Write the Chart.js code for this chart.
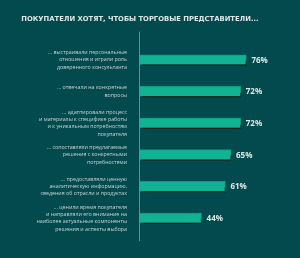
<!DOCTYPE html>
<html><head><meta charset="utf-8">
<script src="https://cdn.jsdelivr.net/npm/chart.js@4.4.1/dist/chart.umd.min.js"></script>
<style>html,body{margin:0;padding:0;background:#034a4e;}#w{width:300px;height:258px;}</style>
</head><body><div id="w"><canvas id="c"></canvas></div>
<script>
const titleText = 'ПОКУПАТЕЛИ ХОТЯТ, ЧТОБЫ ТОРГОВЫЕ ПРЕДСТАВИТЕЛИ...';
const categories = [
  ['... выстраивали персональные', 'отношения и играли роль', 'доверенного консультанта'],
  ['... отвечали на конкретные', 'вопросы'],
  ['... адаптировали процесс', 'и материалы к специфике работы', 'и к уникальным потребностям', 'покупателя'],
  ['... сопоставляли предлагаемые', 'решения с конкретными', 'потребностями'],
  ['... предоставляли ценную', 'аналитическую информацию,', 'сведения об отрасли и продуктах'],
  ['... ценили время покупателя', 'и направляли его внимание на', 'наиболее актуальные компоненты', 'решения и аспекты выбора']
];
const values = [76, 72, 72, 65, 61, 44];
const valueLabels = ['76%', '72%', '72%', '65%', '61%', '44%'];

const shadowPlugin = {
  id: 'shadow',
  beforeDatasetsDraw(chart) {
    const ctx = chart.ctx;
    ctx.save();
    ctx.shadowColor = 'rgba(0,0,0,1)';
    ctx.shadowOffsetX = 1;
    ctx.shadowOffsetY = 6;
    ctx.shadowBlur = 2;
  },
  afterDatasetsDraw(chart) {
    chart.ctx.restore();
    const ctx = chart.ctx;
    const meta = chart.getDatasetMeta(0);
    ctx.save();
    ctx.font = 'bold 8px "Open Sans"';
    ctx.fillStyle = '#dbe7e7';
    ctx.textAlign = 'left';
    ctx.textBaseline = 'middle';
    meta.data.forEach((bar, i) => {
      ctx.fillText(valueLabels[i], bar.x + 5, bar.y + 0.5);
    });
    const x = chart.scales.x.getPixelForValue(0);
    ctx.strokeStyle = 'rgba(130,165,166,0.75)';
    ctx.lineWidth = 1;
    ctx.beginPath();
    ctx.moveTo(Math.round(x) - 0.5, chart.chartArea.top - 12.5);
    ctx.lineTo(Math.round(x) - 0.5, chart.chartArea.bottom + 7);
    ctx.stroke();
    ctx.restore();
  }
};

new Chart(document.getElementById('c'), {
  type: 'bar',
  data: {
    labels: categories,
    datasets: [{
      data: values,
      backgroundColor: '#10b393',
      borderColor: '#0a9a7f',
      borderWidth: 1,
      barThickness: 10.5
    }]
  },
  options: {
    indexAxis: 'y',
    responsive: true,
    maintainAspectRatio: false,
    animation: false,
    layout: { padding: { left: 0, right: 20, top: 0, bottom: 21.7 } },
    plugins: {
      legend: { display: false },
      tooltip: { enabled: false },
      title: {
        display: true,
        text: titleText,
        color: '#dbe6e6',
        font: { family: '"DejaVu Sans"', weight: 'bold', size: 6.8, lineHeight: 1.2 },
        padding: { top: 15, bottom: 21 }
      }
    },
    scales: {
      x: { display: false, min: 0, max: 100 },
      y: {
        afterFit(s) { s.width = 140; },
        grid: { display: false, drawTicks: false },
        border: { display: false },
        ticks: {
          autoSkip: false,
          color: '#c3d5d5',
          padding: 13,
          font: { family: '"Open Sans"', size: 5.3, lineHeight: 1.38 }
        }
      }
    }
  },
  plugins: [shadowPlugin]
});
</script></body></html>
